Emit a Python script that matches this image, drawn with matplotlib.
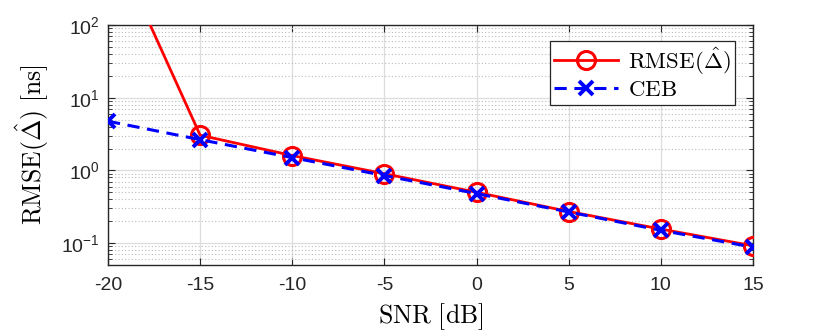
import numpy as np
import matplotlib.pyplot as plt
import matplotlib as mpl
from matplotlib.ticker import LogLocator, NullFormatter, FixedLocator

mpl.rcParams['font.family'] = ['Liberation Sans', 'DejaVu Sans']
mpl.rcParams['mathtext.fontset'] = 'cm'
mpl.rcParams['axes.unicode_minus'] = False

snr = [-20, -15, -10, -5, 0, 5, 10, 15]
rmse = [1900, 3.05, 1.6, 0.9, 0.5, 0.272, 0.156, 0.092]
ceb = [4.75, 2.65, 1.5, 0.85, 0.48, 0.268, 0.15, 0.088]

fig = plt.figure(figsize=(8.3, 3.32), dpi=100)
ax = fig.add_axes([108/830, 1 - 265/332, (753-108)/830, (265-25)/332])

ax.semilogy(snr, rmse, '-o', color='red', lw=2, ms=13, mfc='none', mew=2.2,
            label=r'$\mathrm{RMSE}(\hat{\Delta})$', zorder=3)
ax.semilogy(snr, ceb, '--x', color='blue', lw=2.2, ms=10, mew=2.8,
            dashes=(4, 2.5), label=r'$\mathrm{CEB}$', zorder=4)

ax.set_xlim(-20, 15)
ax.set_ylim(0.05, 100)
ax.xaxis.set_major_locator(FixedLocator(snr))
ax.yaxis.set_major_locator(LogLocator(base=10, numticks=10))
ax.yaxis.set_minor_locator(LogLocator(base=10, subs=np.arange(2, 10), numticks=20))
ax.yaxis.set_minor_formatter(NullFormatter())

ax.grid(True, which='major', color='#dddddd', lw=0.9)
ax.grid(True, which='minor', axis='y', color='#bbbbbb', ls=(0, (1, 2)), lw=0.8)
ax.set_axisbelow(True)
ax.tick_params(which='both', direction='in', top=True, right=True,
               labelsize=14, colors='#262626')
ax.tick_params(which='major', length=5)
ax.tick_params(which='minor', length=3)
ax.tick_params(axis='x', which='major', pad=9)
ax.tick_params(axis='y', which='major', pad=6)
for s in ax.spines.values():
    s.set_color('#262626')
    s.set_linewidth(1)

ax.set_xlabel(r'$\mathrm{SNR\ [dB]}$', fontsize=18.5, labelpad=5)
ax.set_ylabel(r'$\mathrm{RMSE}(\hat{\Delta})\ [\mathrm{ns}]$', fontsize=18.5, labelpad=7)

leg = ax.legend(loc='upper right', bbox_to_anchor=(0.972, 0.935), fontsize=16.5,
                fancybox=False, edgecolor='#262626', framealpha=1,
                handlelength=2.8, handletextpad=0.4, borderpad=0.2,
                labelspacing=0.05, borderaxespad=0)
leg.get_frame().set_linewidth(0.9)

plt.savefig('out.png', dpi=100)
